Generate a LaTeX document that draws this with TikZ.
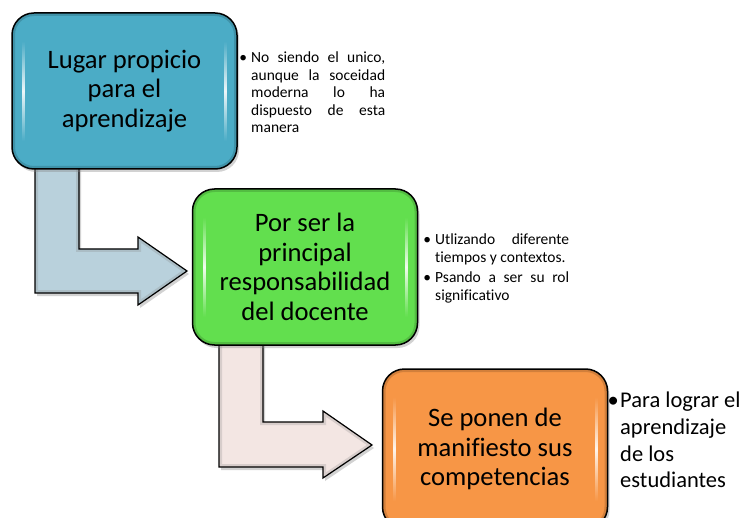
\documentclass[tikz,border=0pt]{standalone}
\usepackage{fontspec}
\setmainfont{Carlito}[Ligatures=NoCommon]
\usetikzlibrary{shadows,fadings}
\tikzfading[name=fadeends, top color=transparent!100, bottom color=transparent!100, middle color=transparent!0]
\definecolor{boxblue}{HTML}{4BACC6}
\definecolor{boxgreen}{HTML}{62DF4E}
\definecolor{boxorange}{HTML}{F79646}
\definecolor{arrblue}{HTML}{B9D1DC}
\definecolor{arrpink}{HTML}{F3E6E3}
\tikzset{
  stepbox/.style={draw=black, line width=1.5pt, rounded corners=22pt,
    minimum width=225pt, minimum height=156pt, inner sep=0pt,
    text width=215pt, align=flush center,
    font=\fontsize{26.6}{29.5}\selectfont,
    drop shadow={opacity=0.35, shadow xshift=2pt, shadow yshift=-3pt},
    path picture={
      \draw[line width=6pt, black, opacity=0.15, rounded corners=22pt]
        (path picture bounding box.south west) rectangle (path picture bounding box.north east);
      \fill[white, sharp corners, opacity=0.9, path fading=fadeends]
        ([xshift=10pt,yshift=28pt]path picture bounding box.south west) rectangle
        ([xshift=13pt,yshift=-28pt]path picture bounding box.north west);
      \fill[white, sharp corners, opacity=0.9, path fading=fadeends]
        ([xshift=-13pt,yshift=28pt]path picture bounding box.south east) rectangle
        ([xshift=-10pt,yshift=-28pt]path picture bounding box.north east);
    }},
  arrowshape/.style={draw=black, line width=1.2pt, line join=miter,
    drop shadow={opacity=0.35, shadow xshift=2pt, shadow yshift=-3pt}},
  listtext/.style={anchor=north west, inner sep=0pt, text width=134pt,
    align=justify, font=\fontsize{15.5}{17.4}\selectfont},
  bigtext/.style={anchor=north west, inner sep=0pt, align=left,
    font=\fontsize{22.5}{26.7}\selectfont}
}
\def\arrA{(35,160) -- (79,160) -- (79,249) -- (138,249) -- (138,237) -- (187,271) -- (138,305) -- (138,293) -- (35,293) -- cycle}
\def\arrB{(219,340) -- (263,340) -- (263,422) -- (323,422) -- (323,411) -- (372,445) -- (323,478) -- (323,467) -- (219,467) -- cycle}
\begin{document}
\begin{tikzpicture}[x=1pt, y=-1pt]
\useasboundingbox (0,0) rectangle (751,518);
\fill[white] (0,0) rectangle (751,518);
% block arrows
\path[arrowshape, fill=arrblue, path picture={\draw[line width=6pt, arrblue!60!gray, opacity=0.6] \arrA;}] \arrA;
\path[arrowshape, fill=arrpink, path picture={\draw[line width=6pt, arrpink!60!gray, opacity=0.6] \arrB;}] \arrB;
% boxes
\node[stepbox, fill=boxblue] (b1) at (124.5,91) {Lugar propicio\\para el\\aprendizaje};
\node[stepbox, fill=boxgreen] (b2) at (305,267) {Por ser la\\principal\\responsabilidad\\del docente};
\node[stepbox, fill=boxorange, minimum height=160pt] (b3) at (495,449) {Se ponen de\\manifiesto sus\\competencias};
% lists
\node[listtext] (l1) at (251,52) {\noindent\llap{\textbullet\hspace{4pt}}No siendo el unico,\linebreak aunque la soceidad\linebreak moderna lo ha\linebreak dispuesto de esta\linebreak manera};
\node[listtext] (l2) at (435,234) {\noindent\llap{\textbullet\hspace{4pt}}Utlizando diferente\linebreak tiempos y contextos.\par\vspace{3pt}\noindent\llap{\textbullet\hspace{4pt}}Psando a ser su rol\linebreak significativo};
\node[bigtext] (l3) at (620,392) {\llap{\textbullet\hspace{1.5pt}}Para lograr el\\aprendizaje\\de los\\estudiantes};
\end{tikzpicture}
\end{document}
